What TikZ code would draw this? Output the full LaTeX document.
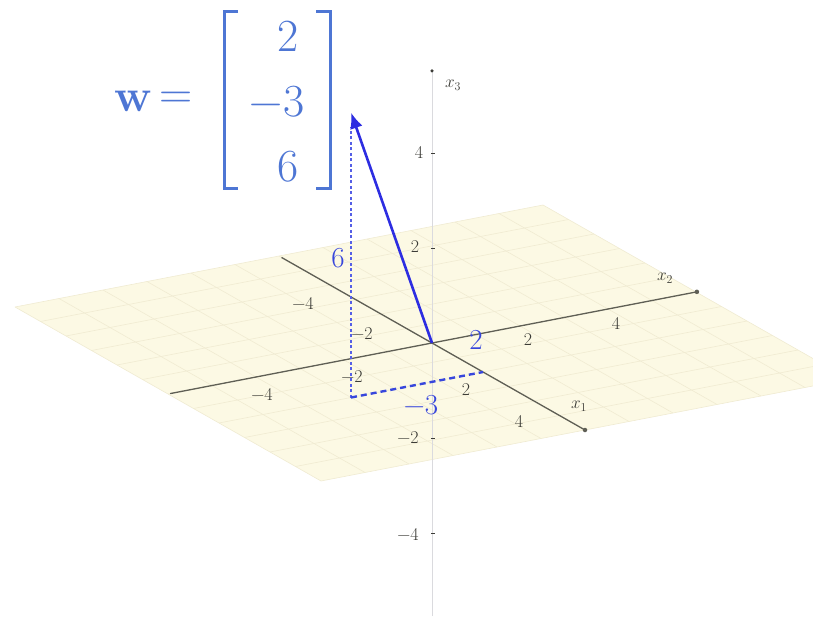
\documentclass[tikz,border=0pt]{standalone}
\usetikzlibrary{arrows.meta}
\definecolor{eqblue}{RGB}{78,118,212}
\definecolor{vecblue}{RGB}{45,45,225}
\definecolor{lblblue}{RGB}{55,70,220}
\definecolor{dotblue}{RGB}{85,95,230}
\definecolor{planefill}{RGB}{252,249,228}
\definecolor{planegrid}{RGB}{240,235,210}
\definecolor{axisdark}{RGB}{95,95,85}
\definecolor{axislight}{RGB}{218,218,222}
\definecolor{ticktext}{RGB}{60,60,55}
\tikzset{
  ticklbl/.style={text=ticktext, inner sep=0pt, font=\fontsize{18}{21}\selectfont},
  axislbl/.style={text=ticktext, inner sep=0pt, font=\fontsize{18}{21}\selectfont},
  bluelbl/.style={text=lblblue, inner sep=0pt, font=\fontsize{29}{33}\selectfont},
  eqtext/.style={text=eqblue, inner sep=0pt, font=\fontsize{46}{52}\selectfont},
  bracketline/.style={draw=eqblue, line width=3pt},
  mainaxis/.style={draw=axisdark, line width=1.3pt},
  vertaxis/.style={draw=axislight, line width=1pt},
  enddot/.style={fill=axisdark, circle, inner sep=0pt, minimum size=4.5pt},
  vecarrow/.style={draw=vecblue, line width=2.6pt, -{Latex[length=16pt,width=13pt]}},
  bluedotted/.style={draw=dotblue, line width=2.4pt, dash pattern=on 3pt off 2.5pt},
  bluedashed/.style={draw=lblblue, line width=2.4pt, dash pattern=on 6pt off 4pt},
}
\begin{document}
\begin{tikzpicture}[x=1pt,y=-1pt]
\useasboundingbox (0,0) rectangle (813,621);
\begin{scope}
\clip (0,0) rectangle (813,621);
\begin{scope}[shift={(432pt,-343pt)}, x={(25.5pt,-14.5pt)}, y={(44pt,8.5pt)}, z={(0pt,47.5pt)}]
  % plane
  \fill[planefill] (-6,-6,0) -- (-6,6,0) -- (6,6,0) -- (6,-6,0) -- cycle;
  \foreach \i in {-6,...,6} {
    \draw[planegrid, line width=0.6pt] (\i,-6,0) -- (\i,6,0);
    \draw[planegrid, line width=0.6pt] (-6,\i,0) -- (6,\i,0);
  }
  \coordinate (O) at (0,0,0);
  \coordinate (x3lo) at (0,0,-5.75);
  \coordinate (x3hi) at (0,0,5.73);
  \coordinate (x1lo) at (-5.9,0,0);
  \coordinate (x1hi) at (6,0,0);
  \coordinate (x2lo) at (0,-5.95,0);
  \coordinate (x2hi) at (0,6.02,0);
  \coordinate (W) at (2,-3,6);
  \coordinate (P) at (2,-3,0);
  \coordinate (Q) at (2,0,0);
  % vertical axis and its ticks
  \draw[vertaxis] (x3lo) -- (x3hi);
  \foreach \k in {-4,-2,2,4} {
    \coordinate (t\k) at (0,0,\k);
    \draw[draw=ticktext, line width=0.6pt] ([xshift=-1pt]t\k) -- ([xshift=3pt]t\k);
  }
  % horizontal axes
  \draw[mainaxis] (x1lo) -- (x1hi);
  \draw[mainaxis] (x2lo) -- (x2hi);
  \node[enddot] (d1) at (x1hi) {};
  \node[enddot] (d2) at (x2hi) {};
  \node[enddot, fill=ticktext, minimum size=3.5pt] (d3) at (x3hi) {};
  % vector and its components
  \draw[bluedotted] (P) -- ([yshift=-14pt]W);
  \draw[bluedashed] (P) -- (Q);
  \draw[vecarrow] (O) -- (W);
\end{scope}
\end{scope}
% tick labels on x3
\node[ticklbl] (z4)  at (419,152) {4};
\node[ticklbl] (z2)  at (415,247) {2};
\node[ticklbl] (zm2) at (408,438) {−2};
\node[ticklbl] (zm4) at (408,534) {−4};
% tick labels on x1
\node[ticklbl] (a2)  at (466,390) {2};
\node[ticklbl] (a4)  at (519,421) {4};
\node[ticklbl] (am2) at (362,334) {−2};
\node[ticklbl] (am4) at (303,303) {−4};
% tick labels on x2
\node[ticklbl] (b2)  at (528,340) {2};
\node[ticklbl] (b4)  at (616,323) {4};
\node[ticklbl] (bm2) at (352,377) {−2};
\node[ticklbl] (bm4) at (262,394) {−4};
% axis names
\node[axislbl] (n3) at (453,85) {$x_3$};
\node[axislbl] (n2) at (665,278) {$x_2$};
\node[axislbl] (n1) at (579,406) {$x_1$};
% component labels
\node[bluelbl] (c6) at (338,258) {6};
\node[bluelbl] (c2) at (476,340) {2};
\node[bluelbl] (c3) at (421,405) {−3};
% equation
\node[eqtext] (wv) at (133,101) {\bfseries w};
\node[eqtext] (eq) at (176,100) {=};
\draw[bracketline] (238,11) -- (224,11) -- (224,188) -- (238,188);
\draw[bracketline] (316,11) -- (330,11) -- (330,188) -- (316,188);
\node[eqtext] (e1) at (288,36) {2};
\node[eqtext] (e2) at (277,102) {−3};
\node[eqtext] (e3) at (288,167) {6};
\end{tikzpicture}
\end{document}
